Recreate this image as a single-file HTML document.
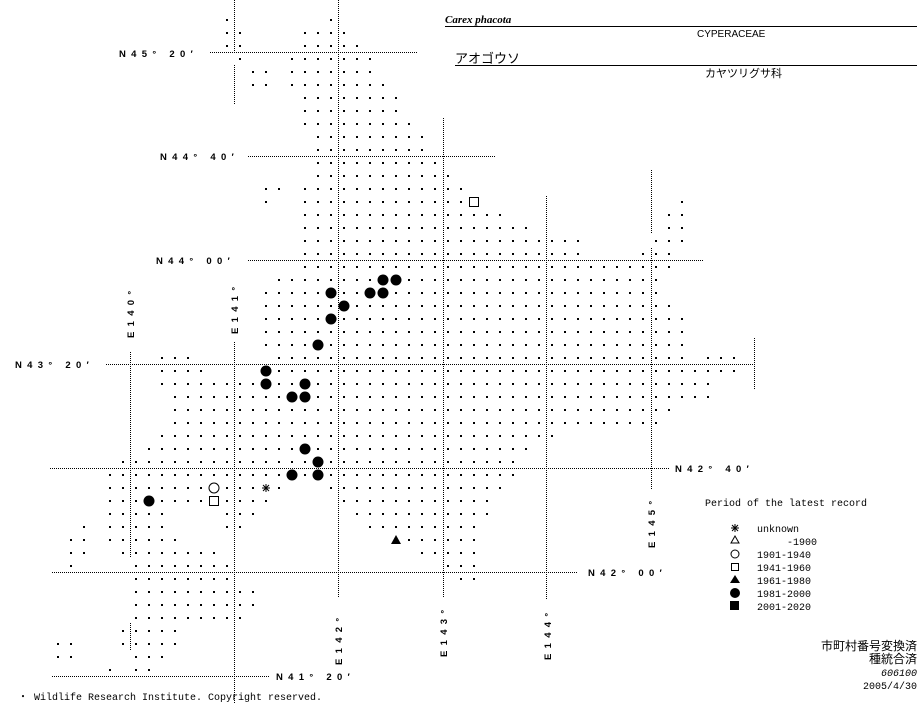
<!DOCTYPE html>
<html><head><meta charset="utf-8"><style>
html,body{margin:0;padding:0;background:#fff;}
svg{display:block}
.lab{font-family:"Liberation Sans",sans-serif;font-weight:bold;font-size:9.5px;letter-spacing:5.3px;fill:#000}
.mono{font-family:"Liberation Mono",monospace;font-size:10px;fill:#000}
.jp{font-family:"Liberation Sans","Noto Sans CJK JP",sans-serif;fill:#000}
</style></head><body>
<svg id="s" width="923" height="703" viewBox="0 0 923 703" xmlns="http://www.w3.org/2000/svg">
<g stroke="#000" stroke-width="1" stroke-dasharray="1 1" fill="none">
<line x1="210" y1="52.5" x2="417" y2="52.5"/>
<line x1="248" y1="156.5" x2="495" y2="156.5"/>
<line x1="248" y1="260.5" x2="703" y2="260.5"/>
<line x1="106" y1="364.5" x2="754" y2="364.5"/>
<line x1="50" y1="468.5" x2="670" y2="468.5"/>
<line x1="52" y1="572.5" x2="577" y2="572.5"/>
<line x1="52" y1="676.5" x2="270" y2="676.5"/>
<line x1="130.5" y1="352" x2="130.5" y2="558"/>
<line x1="130.5" y1="623" x2="130.5" y2="650"/>
<line x1="234.5" y1="0" x2="234.5" y2="52"/>
<line x1="234.5" y1="65" x2="234.5" y2="105"/>
<line x1="234.5" y1="342" x2="234.5" y2="703"/>
<line x1="338.5" y1="0" x2="338.5" y2="598"/>
<line x1="443.5" y1="118" x2="443.5" y2="598"/>
<line x1="546.5" y1="196" x2="546.5" y2="600"/>
<line x1="651.5" y1="170" x2="651.5" y2="234"/>
<line x1="651.5" y1="248" x2="651.5" y2="490"/>
<line x1="754.5" y1="338" x2="754.5" y2="390"/>
</g>
<g id="dots" fill="#000"></g>
<g id="mk"></g>
<text class="lab" x="119" y="57">N45° 20′</text>
<text class="lab" x="160" y="160">N44° 40′</text>
<text class="lab" x="156" y="264">N44° 00′</text>
<text class="lab" x="15" y="368">N43° 20′</text>
<text class="lab" x="675" y="472">N42° 40′</text>
<text class="lab" x="588" y="576">N42° 00′</text>
<text class="lab" x="276" y="680">N41° 20′</text>
<text class="lab" transform="translate(134,338) rotate(-90)">E140°</text>
<text class="lab" transform="translate(238,334) rotate(-90)">E141°</text>
<text class="lab" transform="translate(342,665) rotate(-90)">E142°</text>
<text class="lab" transform="translate(447,657) rotate(-90)">E143°</text>
<text class="lab" transform="translate(551,660) rotate(-90)">E144°</text>
<text class="lab" transform="translate(655,548) rotate(-90)">E145°</text>
<text x="445" y="23" font-family="Liberation Serif,serif" font-style="italic" font-weight="bold" font-size="11">Carex phacota</text>
<line x1="445" y1="26.5" x2="917" y2="26.5" stroke="#000"/>
<text x="697" y="37" font-family="Liberation Sans,sans-serif" font-size="10">CYPERACEAE</text>
<text x="455" y="63" class="jp" font-size="13">アオゴウソ</text>
<line x1="455" y1="65.5" x2="917" y2="65.5" stroke="#000"/>
<text x="705" y="77" class="jp" font-size="11">カヤツリグサ科</text>
<text class="mono" x="705" y="506">Period of the latest record</text>
<text class="mono" x="757" y="532">unknown</text>
<text class="mono" x="757" y="545" xml:space="preserve">     -1900</text>
<text class="mono" x="757" y="558">1901-1940</text>
<text class="mono" x="757" y="571">1941-1960</text>
<text class="mono" x="757" y="584">1961-1980</text>
<text class="mono" x="757" y="597">1981-2000</text>
<text class="mono" x="757" y="610">2001-2020</text>
<g stroke="#000" fill="none">
<path d="M731 528h8M735 524v8M732 525l6 6M738 525l-6 6" stroke-width="1"/>
<path d="M735 536l4 7h-8z"/>
<circle cx="735" cy="554" r="4"/>
<rect x="731.5" y="563.5" width="7" height="7"/>
</g>
<path d="M735 575l5 8h-10z"/>
<circle cx="735" cy="593" r="5"/>
<rect x="730" y="601" width="9" height="9"/>
<g class="jp" font-size="12" text-anchor="end">
<text x="917" y="650">市町村番号変換済</text>
<text x="917" y="663">種統合済</text>
<text x="917" y="676" font-style="italic" font-family="Liberation Mono,monospace" font-size="10">606100</text>
<text x="917" y="689" font-family="Liberation Mono,monospace" font-size="10">2005/4/30</text>
</g>
<text class="mono" x="18" y="700">・ Wildlife Research Institute. Copyright reserved.</text>
</svg>
<script>
var R={1:[[17],[25]],2:[[17,18],[23,26]],3:[[17,18],[23,27]],4:[[18],[22,28]],5:[[19,20],[22,28]],6:[[19,20],[22,29]],7:[[23,30]],8:[[23,30]],9:[[23,31]],10:[[24,32]],11:[[24,32]],12:[[24,33]],13:[[24,34]],14:[[20,21],[23,35]],15:[[20],[23,35],[52]],16:[[23,38],[51,52]],17:[[23,40],[51,52]],18:[[23,44],[50,52]],19:[[23,44],[49,51]],20:[[23,51]],21:[[21,50]],22:[[20,50]],23:[[20,51]],24:[[20,52]],25:[[20,52]],26:[[20,52]],27:[[12,14],[21,52],[54,56]],28:[[12,15],[20,56]],29:[[12,54]],30:[[13,54]],31:[[13,51]],32:[[13,50]],33:[[12,42]],34:[[11,40]],35:[[9,39]],36:[[8,39]],37:[[8,21],[25,38]],38:[[8,20],[26,37]],39:[[8,12],[17,19],[27,37]],40:[[6],[8,12],[17,18],[28,36]],41:[[5,6],[8,13],[30,36]],42:[[5,6],[9,16],[32,36]],43:[[5],[10,17],[34,36]],44:[[10,17],[35,36]],45:[[10,19]],46:[[10,19]],47:[[10,18]],48:[[9,13]],49:[[4,5],[9,13]],50:[[4,5],[10,12]],51:[[8],[10,11]]};
var F=[[29,21],[30,21],[25,22],[28,22],[29,22],[26,23],[25,24],[24,26],[20,28],[20,29],[23,29],[22,30],[23,30],[23,34],[24,35],[22,36],[24,36],[11,38]];
var skip={};F.forEach(function(p){skip[p[0]+','+p[1]]=1});
['16,37','16,38','20,37','36,15','30,41'].forEach(function(k){skip[k]=1});
var h='';
for(var r in R){R[r].forEach(function(g){var a=g[0],b=g.length>1?g[1]:g[0];for(var c=a;c<=b;c++){if(skip[c+','+r])continue;h+='<rect x="'+(13*c+5)+'" y="'+(13*r+6)+'" width="2" height="2"/>';}});}
document.getElementById('dots').innerHTML=h;
var m='';
F.forEach(function(p){m+='<circle cx="'+(13*p[0]+6)+'" cy="'+(13*p[1]+7)+'" r="5.5" fill="#000"/>';});
function X(c){return 13*c+6}function Y(r){return 13*r+7}
m+='<circle cx="'+X(16)+'" cy="'+Y(37)+'" r="5" fill="#fff" stroke="#000"/>';
m+='<rect x="'+(X(16)-4.5)+'" y="'+(Y(38)-4.5)+'" width="9" height="9" fill="#fff" stroke="#000"/>';
m+='<rect x="'+(X(36)-4.5)+'" y="'+(Y(15)-4.5)+'" width="9" height="9" fill="#fff" stroke="#000"/>';
var ax=X(20),ay=Y(37);
m+='<path d="M'+(ax-4)+' '+ay+'h8M'+ax+' '+(ay-4)+'v8M'+(ax-3)+' '+(ay-3)+'l6 6M'+(ax+3)+' '+(ay-3)+'l-6 6" stroke="#000"/>';
var tx=X(30),ty=Y(41);
m+='<path d="M'+tx+' '+(ty-5)+'l5 9h-10z" fill="#000"/>';
document.getElementById('mk').innerHTML=m;
</script>
</body></html>
